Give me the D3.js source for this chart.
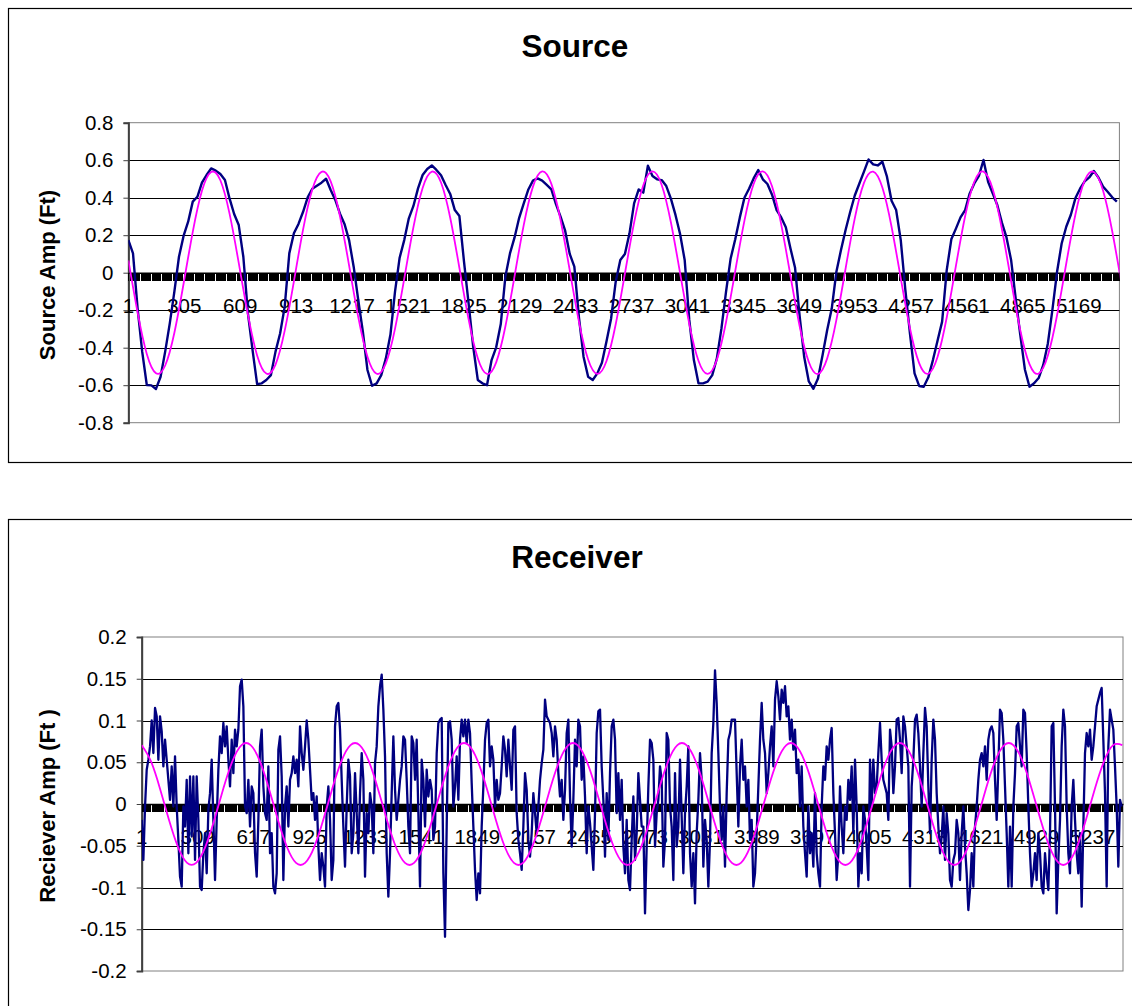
<!DOCTYPE html>
<html><head><meta charset="utf-8">
<script src="https://cdn.jsdelivr.net/npm/d3@7"></script>
<style>
html,body{margin:0;padding:0;background:#fff;}
svg{display:block;font-family:"Liberation Sans",Arial,Helvetica,sans-serif;}
</style>
</head><body>
<svg id="chart" width="1132" height="1006"></svg>
<script>
// ---------------- DATA ----------------
const sourceCategoryCount = 5390;
const receiverCategoryCount = 5405;
const sourceAmpStep = 25;      // categories between source samples
const sourceFitStep = 50;
const receiverAmpStep = 9.178; // categories between receiver samples
const receiverFitStep = 50;

const sourceXLabels = [1,305,609,913,1217,1521,1825,2129,2433,2737,3041,3345,3649,3953,4257,4561,4865,5169];
const receiverXLabels = [1,309,617,925,1233,1541,1849,2157,2465,2773,3081,3389,3697,4005,4313,4621,4929,5237];
const sourceYTicks = [0.8,0.6,0.4,0.2,0,-0.2,-0.4,-0.6,-0.8];
const receiverYTicks = [0.2,0.15,0.1,0.05,0,-0.05,-0.1,-0.15,-0.2];

const sourceAmp = [
0.174,0.103,-0.19,-0.421,-0.599,-0.601,-0.62,-0.555,-0.421,-0.27,
-0.101,0.085,0.196,0.272,0.379,0.405,0.48,0.521,0.556,0.544,
0.526,0.494,0.396,0.313,0.254,0.085,-0.217,-0.412,-0.594,-0.59,
-0.572,-0.546,-0.421,-0.324,-0.181,0.103,0.21,0.26,0.325,0.402,
0.448,0.464,0.48,0.501,0.441,0.388,0.316,0.26,0.174,0.032,
-0.146,-0.315,-0.519,-0.603,-0.59,-0.546,-0.457,-0.33,-0.10,0.08,
0.174,0.29,0.356,0.45,0.521,0.553,0.572,0.548,0.52,0.468,
0.42,0.334,0.302,0.059,-0.164,-0.395,-0.572,-0.59,-0.6,-0.466,
-0.398,-0.274,-0.021,0.103,0.188,0.293,0.37,0.444,0.491,0.503,
0.491,0.468,0.444,0.366,0.299,0.224,0.1,0.032,-0.238,-0.448,
-0.555,-0.572,-0.537,-0.48,-0.366,-0.244,-0.048,0.068,0.1,0.21,
0.37,0.444,0.427,0.571,0.516,0.498,0.494,0.462,0.395,0.308,
0.206,0.068,-0.252,-0.466,-0.59,-0.59,-0.581,-0.546,-0.457,-0.297,
-0.101,0.076,0.178,0.295,0.4,0.448,0.503,0.548,0.498,0.473,
0.416,0.334,0.295,0.242,0.13,0.028,-0.23,-0.45,-0.58,-0.619,
-0.564,-0.439,-0.306,-0.19,0.005,0.121,0.228,0.324,0.412,0.476,
0.539,0.604,0.578,0.572,0.592,0.512,0.384,0.334,0.174,-0.092,
-0.324,-0.537,-0.604,-0.608,-0.558,-0.466,-0.363,-0.261,0.014,0.178,
0.235,0.295,0.334,0.423,0.476,0.516,0.601,0.485,0.423,0.361,
0.267,0.188,0.068,-0.137,-0.332,-0.516,-0.608,-0.59,-0.562,-0.492,
-0.377,-0.196,0.005,0.156,0.245,0.309,0.398,0.448,0.487,0.508,
0.542,0.508,0.459,0.432,0.402,0.379
];

const sourceFit = [
0.066,-0.212,-0.433,-0.536,-0.495,-0.320,-0.059,0.218,0.437,0.537,
0.493,0.315,0.052,-0.224,-0.441,-0.538,-0.490,-0.309,-0.046,0.231,
0.444,0.538,0.487,0.304,0.039,-0.237,-0.448,-0.539,-0.484,-0.298,
-0.032,0.243,0.452,0.539,0.481,0.293,0.025,-0.249,-0.456,-0.540,
-0.478,-0.287,-0.018,0.255,0.459,0.540,0.474,0.281,0.012,-0.261,
-0.463,-0.540,-0.471,-0.275,-0.005,0.267,0.466,0.540,0.468,0.269,
-0.002,-0.273,-0.470,-0.540,-0.464,-0.263,0.009,0.278,0.473,0.540,
0.461,0.258,-0.015,-0.284,-0.476,-0.540,-0.457,-0.252,0.022,0.290,
0.479,0.539,0.454,0.245,-0.029,-0.296,-0.482,-0.539,-0.450,-0.239,
0.036,0.301,0.485,0.539,0.446,0.233,-0.043,-0.307,-0.488,-0.538,
-0.442,-0.227,0.049,0.312,0.491,0.537,0.438,0.221,-0.056
];

const receiverAmp = [
-0.019,-0.067,-0.003,0.041,0.053,0.069,0.1,0.061,0.115,0.105,
0.053,0.105,0.087,0.045,0.077,0.053,0.029,0.005,0.045,-0.003,
0.057,-0.003,-0.043,-0.087,-0.099,-0.003,-0.027,0.029,-0.059,0.033,
-0.039,0.033,-0.067,0.033,-0.019,-0.099,-0.103,-0.059,-0.035,-0.083,
-0.007,0.013,0.053,-0.019,-0.091,-0.019,0.041,0.081,0.061,0.097,
0.069,0.093,0.053,0.021,0.077,0.037,0.089,0.069,0.089,0.141,
0.149,0.117,-0.003,-0.011,0.029,-0.027,0.021,0.013,-0.059,-0.087,
-0.019,0.069,0.089,0.021,-0.011,-0.019,0.045,-0.059,-0.035,-0.099,
-0.107,-0.083,0.065,0.081,0.033,-0.091,-0.003,0.021,-0.027,0.029,
0.037,0.057,0.037,0.053,0.021,0.093,0.061,0.041,0.069,0.1,
0.077,0.041,0.005,0.013,-0.019,0.009,-0.051,-0.091,-0.059,-0.075,
-0.099,-0.003,0.021,-0.019,-0.091,-0.067,0.093,0.117,0.121,0.089,
0.029,-0.027,-0.075,-0.003,0.053,0.033,-0.059,-0.035,0.037,-0.011,
-0.059,0.013,0.061,0.029,-0.087,-0.011,-0.035,0.013,-0.003,-0.059,
0.049,0.069,0.117,0.141,0.155,0.113,0.057,-0.059,-0.111,-0.059,
0.013,0.081,
0.017,-0.019,0.005,0.029,0.045,0.081,0.077,0.029,-0.027,-0.059,
0.081,0.073,0.029,0.077,-0.011,-0.099,0.053,0.029,-0.027,0.041,
0.009,0.029,0.017,-0.043,-0.027,0.061,0.097,0.101,0.103,-0.083,
-0.159,-0.027,0.097,0.099,0.077,-0.003,0.021,0.057,0.005,0.077,
0.101,0.081,0.101,0.073,0.101,0.085,0.025,-0.027,-0.079,-0.115,
-0.083,-0.107,-0.027,0.021,0.077,0.097,0.101,0.045,0.069,0.053,
-0.003,0.029,0.005,0.013,0.045,0.081,0.065,0.033,0.077,0.045,
0.017,0.089,0.093,-0.011,-0.043,-0.059,-0.079,-0.027,0.037,0.017,
-0.043,-0.063,-0.035,0.013,-0.011,-0.035,-0.003,0.029,0.049,0.065,
0.125,0.105,0.101,0.097,0.085,0.057,0.093,0.077,0.037,0.009,
0.029,-0.019,0.017,0.085,0.101,0.009,-0.051,0.005,0.077,0.045,
0.101,0.093,0.029,0.057,0.009,-0.059,-0.003,-0.023,-0.051,-0.079,
-0.011,0.085,0.111,
0.113,0.045,0.005,-0.063,0.013,-0.043,0.037,0.093,0.101,0.077,
-0.011,0.037,-0.019,0.029,-0.051,-0.083,-0.019,-0.091,-0.103,-0.043,
0.009,-0.067,-0.035,0.037,0.005,-0.027,-0.027,-0.131,-0.051,0.021,
0.077,0.073,0.053,-0.051,-0.011,0.005,0.045,0.029,-0.075,-0.043,
0.085,0.077,-0.003,-0.027,-0.091,0.037,-0.051,-0.027,0.053,-0.015,
-0.083,-0.011,0.021,0.069,-0.059,-0.099,-0.059,-0.119,-0.035,0.005,
0.061,0.029,-0.075,-0.019,-0.043,-0.099,-0.043,0.061,0.097,0.160,
0.121,0.061,-0.003,-0.043,-0.003,-0.075,0.013,0.077,0.085,0.101,
0.101,0.101,0.037,-0.027,0.045,0.077,0.029,0.045,-0.003,0.029,
-0.043,-0.019,-0.099,-0.083,-0.035,0.021,0.077,0.121,0.077,0.061,
0.013,0.037,0.069,0.093,0.045,0.125,0.147,0.129,0.101,0.137,
0.121,0.141,0.105,0.117,0.077,0.101,0.065,0.089,0.037,0.053,
-0.003,0.045,-0.027,
-0.059,-0.087,-0.003,-0.059,-0.035,-0.075,0.013,-0.059,-0.083,-0.099,
-0.003,0.045,0.029,0.069,0.053,0.077,0.091,0.013,-0.035,-0.091,
-0.059,0.021,-0.027,-0.059,-0.003,-0.019,0.029,0.005,0.045,-0.035,
0.053,-0.003,-0.099,-0.059,-0.083,-0.003,-0.019,-0.051,-0.091,0.053,
-0.003,0.053,0.013,0.021,0.061,0.097,0.053,0.029,0.021,0.013,
-0.019,0.089,0.069,0.013,0.045,0.101,0.103,0.077,0.037,0.105,
0.093,0.069,0.045,-0.099,0.021,0.053,0.101,0.107,0.085,0.045,
-0.003,0.061,0.115,0.093,0.021,-0.035,0.053,0.101,0.077,0.013,
-0.027,-0.059,-0.039,-0.003,-0.067,-0.011,-0.035,-0.091,-0.099,-0.067,
-0.059,-0.019,-0.035,-0.091,-0.035,-0.003,-0.051,-0.083,-0.127,-0.103,
-0.059,-0.099,-0.027,-0.003,0.029,0.053,0.061,0.045,0.069,0.029,
0.077,0.089,0.093,0.085,0.029,-0.019,0.045,0.113,0.109,0.077,
0.021,-0.035,-0.099,-0.027,-0.099,-0.003,0.037,0.093,0.097,0.069,
0.045,0.113,0.109,0.061,-0.003,-0.059,-0.099,-0.083,-0.059,-0.091,
-0.035,-0.059,-0.099,-0.107,-0.059,-0.083,-0.103,-0.035,0.093,0.097,
-0.003,-0.131,-0.067,-0.019,0.069,0.113,0.093,-0.003,-0.059,-0.083,
-0.003,0.029,-0.019,-0.059,-0.083,-0.035,-0.123,-0.027,0.061,0.085,
0.069,0.089,0.053,0.069,0.093,0.117,0.125,0.133,0.139,0.077,
0.013,-0.099,0.069,0.113,0.101,0.089,0.045,-0.003,-0.075,0.005,
-0.003
];

const receiverFit = [
0.0705,0.0517,0.0190,-0.0188,-0.0515,-0.0705,-0.0705,-0.0517,-0.0190,0.0188,0.0515,0.0705,
0.0705,0.0517,0.0190,-0.0188,-0.0515,-0.0705,-0.0705,-0.0517,-0.0190,0.0188,0.0515,0.0705,
0.0705,0.0517,0.0190,-0.0188,-0.0515,-0.0705,-0.0705,-0.0517,-0.0190,0.0188,0.0515,0.0705,
0.0705,0.0517,0.0190,-0.0188,-0.0515,-0.0705,-0.0705,-0.0517,-0.0190,0.0188,0.0515,0.0705,
0.0705,0.0517,0.0190,-0.0188,-0.0515,-0.0705,-0.0705,-0.0517,-0.0190,0.0188,0.0515,0.0705,
0.0705,0.0517,0.0190,-0.0188,-0.0515,-0.0705,-0.0705,-0.0517,-0.0190,0.0188,0.0515,0.0705,
0.0705,0.0517,0.0190,-0.0188,-0.0515,-0.0705,-0.0705,-0.0517,-0.0190,0.0188,0.0515,0.0705,
0.0705,0.0517,0.0190,-0.0188,-0.0515,-0.0705,-0.0705,-0.0517,-0.0190,0.0188,0.0515,0.0705,
0.0705,0.0517,0.0190,-0.0188,-0.0515,-0.0705,-0.0705,-0.0517,-0.0190,0.0188,0.0515,0.0705,
0.0705
];

// ---------------- LAYOUT ----------------
const panels = [
  { id:"src", title:"Source", titleX:575, titleY:57,
    box:[8.5,8.5,1140,454], left:128.4, right:1119.4, top:122.7, bottom:422.7,
    yDomain:[-0.8,0.8], yTicks:sourceYTicks, xLabels:sourceXLabels, n:sourceCategoryCount,
    amp:sourceAmp, ampStep:sourceAmpStep, fit:sourceFit, fitStep:sourceFitStep,
    yTitle:"Source Amp (Ft)", yTitleX:55, yTitleY:275, ampWidth:2.4 },
  { id:"rcv", title:"Receiver", titleX:577, titleY:568,
    box:[8.5,519.5,1140,600], left:141.7, right:1123, top:637, bottom:971,
    yDomain:[-0.2,0.2], yTicks:receiverYTicks, xLabels:receiverXLabels, n:receiverCategoryCount,
    amp:receiverAmp, ampStep:receiverAmpStep, fit:receiverFit, fitStep:receiverFitStep,
    yTitle:"Reciever Amp (Ft )", yTitleX:55, yTitleY:806, ampWidth:2.3 }
];

const svg = d3.select("#chart");
svg.append("rect").attr("width",1132).attr("height",1006).attr("fill","#fff");

panels.forEach(p => {
  const g = svg.append("g");
  g.append("rect").attr("x",p.box[0]).attr("y",p.box[1]).attr("width",p.box[2]).attr("height",p.box[3])
    .attr("fill","#fff").attr("stroke","#000").attr("stroke-width",1.2);

  const x = d3.scaleLinear().domain([1,p.n]).range([p.left,p.right]);
  const y = d3.scaleLinear().domain(p.yDomain).range([p.bottom,p.top]);

  // plot area
  g.append("rect").attr("x",p.left).attr("y",p.top).attr("width",p.right-p.left).attr("height",p.bottom-p.top)
    .attr("fill","#fff").attr("stroke","#808080").attr("stroke-width",1);

  // gridlines
  g.append("g").selectAll("line").data(p.yTicks.filter(t => t!==p.yDomain[0] && t!==p.yDomain[1]))
    .join("line").attr("x1",p.left).attr("x2",p.right)
    .attr("y1",d=>Math.round(y(d))+0.5).attr("y2",d=>Math.round(y(d))+0.5)
    .attr("stroke","#000").attr("stroke-width",1);

  // y axis
  const yAxis = d3.axisLeft(y).tickValues(p.yTicks).tickSize(5).tickPadding(10).tickFormat(d=>String(d));
  const ya = g.append("g").attr("transform",`translate(${p.left},0)`).call(yAxis);
  ya.select(".domain").attr("stroke","#404040").attr("stroke-width",2);
  ya.selectAll(".tick line").attr("stroke","#404040").attr("stroke-width",1);
  ya.selectAll(".tick text").attr("font-size","20.5px").attr("fill","#000")
    .attr("font-family","'Liberation Sans',Arial,sans-serif");

  // x axis (category axis crossing at 0 with dense tick marks)
  const xAxis = d3.axisBottom(x).tickValues(d3.range(1,p.n+1,6)).tickSize(8).tickSizeOuter(0).tickFormat("");
  const xa = g.append("g").attr("transform",`translate(0,${y(0)})`).call(xAxis);
  xa.select(".domain").attr("stroke","#000").attr("stroke-width",1.5);
  xa.selectAll(".tick line").attr("stroke","#000").attr("shape-rendering","crispEdges");

  // x labels
  g.append("g").selectAll("text").data(p.xLabels).join("text")
    .attr("x",d=>x(d)).attr("y",y(0)+40).attr("text-anchor","middle")
    .attr("font-size","20.5px").attr("fill","#000").text(d=>d);

  // series
  const clipId = "clip-"+p.id;
  svg.append("clipPath").attr("id",clipId).append("rect")
    .attr("x",p.left).attr("y",p.top-5).attr("width",p.right-p.left).attr("height",p.bottom-p.top+10);
  const series = g.append("g").attr("clip-path",`url(#${clipId})`);
  const ampLine = d3.line().x((d,i)=>x(1+i*p.ampStep)).y(d=>y(d));
  const fitLine = d3.line().x((d,i)=>x(1+i*p.fitStep)).y(d=>y(d)).curve(d3.curveNatural);
  series.append("path").attr("d",ampLine(p.amp)).attr("fill","none")
    .attr("stroke","#000080").attr("stroke-width",p.ampWidth).attr("stroke-linejoin","round");
  series.append("path").attr("d",fitLine(p.fit)).attr("fill","none")
    .attr("stroke","#FF00FF").attr("stroke-width",1.8);

  // titles
  g.append("text").attr("x",p.titleX).attr("y",p.titleY).attr("text-anchor","middle")
    .attr("font-size","31.5px").attr("font-weight","bold").attr("fill","#000").text(p.title);
  g.append("text").attr("transform",`translate(${p.yTitleX},${p.yTitleY}) rotate(-90)`)
    .attr("text-anchor","middle").attr("font-size","22px").attr("font-weight","bold").attr("fill","#000")
    .text(p.yTitle);
});
</script>
</body></html>
